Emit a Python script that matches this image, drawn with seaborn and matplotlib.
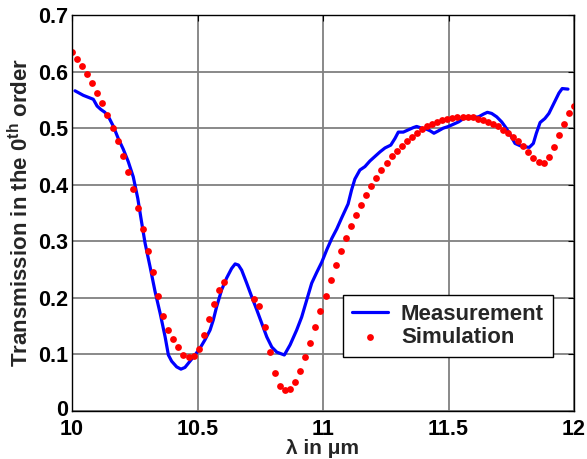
import numpy as np
import pandas as pd
import matplotlib
matplotlib.use("Agg")
import matplotlib.pyplot as plt
import matplotlib.transforms as mtransforms
import seaborn as sns

# Measured zeroth-order transmission
meas_wavelength = [
    10.012, 10.045, 10.085, 10.100, 10.115, 10.131, 10.149, 10.165, 10.184, 10.204,
    10.224, 10.244, 10.262, 10.275, 10.291, 10.311, 10.331, 10.351, 10.371, 10.384,
    10.397, 10.417, 10.434, 10.450, 10.470, 10.490, 10.510, 10.530, 10.550, 10.563,
    10.576, 10.596, 10.616, 10.636, 10.650, 10.663, 10.676, 10.696, 10.716, 10.736,
    10.756, 10.776, 10.796, 10.816, 10.846, 10.869, 10.895, 10.915, 10.935, 10.955,
    10.975, 10.995, 11.015, 11.035, 11.055, 11.074, 11.100, 11.114, 11.127, 11.147,
    11.167, 11.187, 11.207, 11.227, 11.247, 11.270, 11.287, 11.300, 11.320, 11.340,
    11.360, 11.373, 11.393, 11.413, 11.426, 11.442, 11.459, 11.479, 11.500, 11.520,
    11.540, 11.560, 11.580, 11.600, 11.620, 11.640, 11.655, 11.672, 11.692, 11.712,
    11.730, 11.750, 11.765, 11.785, 11.805, 11.822, 11.838, 11.850, 11.865, 11.884,
    11.900, 11.920, 11.940, 11.953, 11.976,
]
meas_transmission = [
    0.566, 0.558, 0.551, 0.539, 0.533, 0.528, 0.517, 0.503, 0.482, 0.463,
    0.441, 0.414, 0.376, 0.340, 0.297, 0.255, 0.211, 0.173, 0.131, 0.099,
    0.088, 0.078, 0.074, 0.077, 0.088, 0.099, 0.111, 0.126, 0.143, 0.161,
    0.184, 0.214, 0.235, 0.252, 0.260, 0.258, 0.249, 0.226, 0.202, 0.179,
    0.155, 0.131, 0.113, 0.104, 0.099, 0.117, 0.143, 0.166, 0.196, 0.226,
    0.245, 0.263, 0.285, 0.305, 0.322, 0.341, 0.366, 0.391, 0.410, 0.426,
    0.432, 0.442, 0.450, 0.458, 0.465, 0.470, 0.482, 0.493, 0.493, 0.497,
    0.501, 0.503, 0.500, 0.498, 0.4955, 0.491, 0.495, 0.500, 0.503, 0.507,
    0.511, 0.517, 0.519, 0.519, 0.520, 0.525, 0.528, 0.526, 0.520, 0.511,
    0.500, 0.485, 0.473, 0.469, 0.467, 0.466, 0.473, 0.491, 0.510, 0.517,
    0.526, 0.544, 0.562, 0.570, 0.569,
]

# Simulated zeroth-order transmission (no values between 10.62 and 10.71 um)
sim_wavelength = [
    10.000, 10.020, 10.040, 10.061, 10.081, 10.101, 10.121, 10.141, 10.162, 10.182,
    10.202, 10.222, 10.242, 10.263, 10.283, 10.303, 10.323, 10.343, 10.364, 10.384,
    10.404, 10.424, 10.444, 10.465, 10.485, 10.505, 10.525, 10.545, 10.566, 10.586,
    10.606, 10.626, 10.646, 10.667, 10.687, 10.707, 10.727, 10.747, 10.768, 10.788,
    10.808, 10.828, 10.848, 10.869, 10.889, 10.909, 10.929, 10.949, 10.970, 10.990,
    11.010, 11.030, 11.051, 11.071, 11.091, 11.111, 11.131, 11.152, 11.172, 11.192,
    11.212, 11.232, 11.253, 11.273, 11.293, 11.313, 11.333, 11.354, 11.374, 11.394,
    11.414, 11.434, 11.455, 11.475, 11.495, 11.515, 11.535, 11.556, 11.576, 11.596,
    11.616, 11.636, 11.657, 11.677, 11.697, 11.717, 11.737, 11.758, 11.778, 11.798,
    11.818, 11.838, 11.859, 11.879, 11.899, 11.919, 11.939, 11.960, 11.980, 12.000,
]
nan = float("nan")
sim_transmission = [
    0.634, 0.622, 0.610, 0.595, 0.579, 0.563, 0.544, 0.524, 0.501, 0.477,
    0.451, 0.423, 0.392, 0.358, 0.322, 0.283, 0.245, 0.203, 0.168, 0.143,
    0.128, 0.113, 0.099, 0.096, 0.098, 0.110, 0.134, 0.163, 0.189, 0.214,
    0.228, nan, nan, nan, nan, nan, 0.198, 0.186, 0.148, 0.104,
    0.068, 0.045, 0.037, 0.039, 0.052, 0.071, 0.095, 0.121, 0.148, 0.177,
    0.204, 0.232, 0.258, 0.282, 0.305, 0.327, 0.346, 0.365, 0.382, 0.398,
    0.412, 0.426, 0.438, 0.450, 0.460, 0.469, 0.477, 0.485, 0.492, 0.498,
    0.503, 0.507, 0.511, 0.514, 0.516, 0.518, 0.519, 0.520, 0.520, 0.519,
    0.517, 0.514, 0.511, 0.507, 0.503, 0.497, 0.491, 0.485, 0.477, 0.468,
    0.458, 0.448, 0.440, 0.439, 0.449, 0.466, 0.487, 0.508, 0.526, 0.539,
]

x_ticks = [10, 10.5, 11, 11.5, 12]
x_tick_labels = ["10", "10.5", "11", "11.5", "12"]
y_ticks = [0, 0.1, 0.2, 0.3, 0.4, 0.5, 0.6, 0.7]
y_tick_labels = ["0", "0.1", "0.2", "0.3", "0.4", "0.5", "0.6", "0.7"]

meas_df = pd.DataFrame({"wavelength": meas_wavelength, "T": meas_transmission})
sim_df = pd.DataFrame({"wavelength": sim_wavelength, "T": sim_transmission}).dropna()

sns.set_theme(style="white")
plt.rcParams["font.family"] = ["Liberation Sans", "DejaVu Sans"]
plt.rcParams["font.weight"] = "bold"
plt.rcParams["mathtext.fontset"] = "custom"
plt.rcParams["mathtext.rm"] = "Liberation Sans:bold"
plt.rcParams["mathtext.bf"] = "Liberation Sans:bold"

FS = 16
TICK_FS = 15.5

fig = plt.figure(figsize=(5.87, 4.59), dpi=100)
ax = fig.add_axes([72 / 587, 48 / 459, 502 / 587, 396 / 459])

sns.lineplot(data=meas_df, x="wavelength", y="T", ax=ax, color=(0, 0, 1),
             linewidth=2.3, label="Measurement", sort=False, zorder=3)
sns.scatterplot(data=sim_df, x="wavelength", y="T", ax=ax, color=(1, 0, 0),
                s=24, linewidth=0, label="Simulation", zorder=4)

ax.set_xlim(10, 12)
ax.set_ylim(0, 0.7)
ax.set_xticks(x_ticks)
ax.set_xticklabels(x_tick_labels)
ax.set_yticks(y_ticks)
ax.set_yticklabels(y_tick_labels)
ax.grid(True, color="#808080", linewidth=1.3)
ax.set_axisbelow(True)
for sp in ax.spines.values():
    sp.set_color("black")
    sp.set_linewidth(1.0)
    sp.set_zorder(5)
ax.tick_params(axis="both", which="both", direction="in", length=4, width=0.8,
               top=True, right=True, labelsize=TICK_FS, colors="black")
ax.tick_params(axis="x", pad=6)
ax.tick_params(axis="y", pad=3)
for lbl in ax.get_xticklabels() + ax.get_yticklabels():
    lbl.set_fontweight("bold")

# lift the "0" label a little so it clears the "10" below it
zero_lbl = ax.get_yticklabels()[0]
zero_lbl.set_transform(zero_lbl.get_transform()
                       + mtransforms.ScaledTranslation(0, 3 / 100, fig.dpi_scale_trans))

ax.set_xlabel("λ in μm", fontsize=15, fontweight="bold", labelpad=-1)
ax.set_ylabel(r"Transmission in the 0$^{\mathbf{th}}$ order", fontsize=FS,
              fontweight="bold", labelpad=3)

leg = ax.legend(loc="lower left", bbox_to_anchor=(0.54, 0.136), fontsize=FS,
                frameon=True, fancybox=False, framealpha=1, edgecolor="black",
                handlelength=1.6, handletextpad=0.6, labelspacing=0.1,
                borderpad=0.4, borderaxespad=0)
leg.get_frame().set_linewidth(1.0)
for t in leg.get_texts():
    t.set_fontweight("bold")
leg.set_zorder(6)

fig.savefig("out.png", dpi=100)
